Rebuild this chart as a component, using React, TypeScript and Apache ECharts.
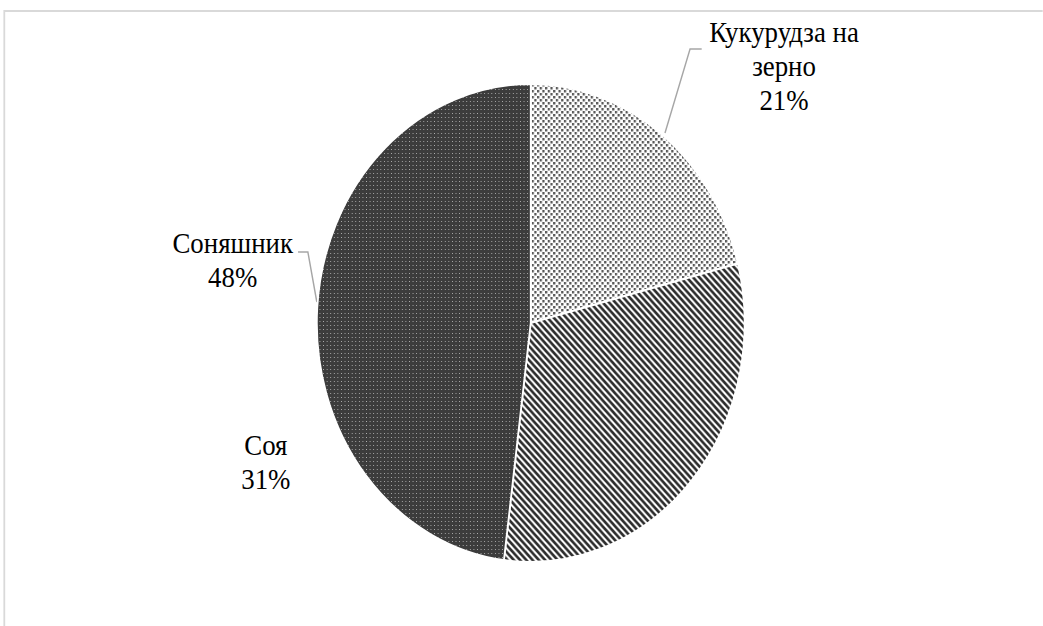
import React, { useEffect, useRef } from "react";
import * as echarts from "echarts";

// ---- data ----
const categories = ["Кукурудза на зерно", "Соя", "Соняшник"];
const shares = [21, 31, 48];

// ---- layout (local, pre-transform coordinates) ----
const SCALE_X = 0.895;
const LOCAL_W = 1165;
const LOCAL_H = 626;
const FONT = "Liberation Serif";
const labelAnchors: number[][] = [
  [876, 66],
  [297, 462],
  [260, 260],
];
const leaderLines: (number[][] | null)[] = [
  [
    [743, 133],
    [771, 49],
    [784, 49],
  ],
  null,
  [
    [354, 302],
    [344, 252],
    [333, 252],
  ],
];

// tiles drawn at 2x resolution, shown at half size
function makeTile(kind: string): { canvas: HTMLCanvasElement; size: number } {
  const c = document.createElement("canvas");
  const ctx = c.getContext("2d")!;
  let size = 6;
  if (kind === "dots") {
    size = 6;
    c.width = c.height = size * 2;
    ctx.fillStyle = "#ffffff";
    ctx.fillRect(0, 0, 12, 12);
    ctx.fillStyle = "#585858";
    ctx.fillRect(0, 0, 5, 5);
    ctx.fillRect(6, 6, 5, 5);
  } else if (kind === "stripes") {
    size = 7;
    c.width = c.height = size * 2;
    ctx.fillStyle = "#ffffff";
    ctx.fillRect(0, 0, 14, 14);
    ctx.strokeStyle = "#2e2e2e";
    ctx.lineWidth = 5.5;
    for (const off of [-14, 0, 14]) {
      ctx.beginPath();
      ctx.moveTo(off - 2, -2);
      ctx.lineTo(off + 16, 16);
      ctx.stroke();
    }
  } else {
    size = 4;
    c.width = c.height = size * 2;
    ctx.fillStyle = "#3c3c3c";
    ctx.fillRect(0, 0, 8, 8);
    ctx.fillStyle = "#b0b0b0";
    ctx.fillRect(2, 2, 2, 2);
  }
  return { canvas: c, size };
}

export default function App() {
  const ref = useRef<HTMLDivElement>(null);

  useEffect(() => {
    if (!ref.current) return;
    const chart = echarts.init(ref.current, undefined, { renderer: "svg" });
    const kinds = ["dots", "stripes", "darkdots"];
    const fills = kinds.map((k) => {
      const t = makeTile(k);
      return {
        image: t.canvas,
        repeat: "repeat",
        imageWidth: t.size,
        imageHeight: t.size,
      };
    });

    const data = categories.map((name, i) => ({
      name,
      value: shares[i],
      itemStyle: { color: fills[i] as any },
      labelLine: { show: leaderLines[i] !== null },
    }));

    chart.setOption({
      animation: false,
      backgroundColor: "#ffffff",
      textStyle: { fontFamily: FONT },
      graphic: [
        {
          type: "rect",
          z: -1,
          shape: { x: 4.8, y: 11, width: 1300, height: 800 },
          style: { fill: "none", stroke: "#d9d9d9", lineWidth: 2 },
          silent: true,
        },
      ],
      series: [
        {
          type: "pie",
          center: [593, 323],
          radius: [0, 239],
          startAngle: 90,
          clockwise: true,
          silent: true,
          itemStyle: { borderColor: "#ffffff", borderWidth: 2 },
          label: {
            show: true,
            position: "outside",
            fontFamily: FONT,
            fontSize: 30,
            lineHeight: 34,
            color: "#000000",
            align: "center",
            formatter: (p: any) =>
              p.name.replace(" на ", " на\n") + "\n" + Math.round(p.percent) + "%",
          },
          labelLine: {
            show: true,
            lineStyle: { color: "#a6a6a6", width: 1.6 },
          },
          labelLayout: (params: any) => {
            const i = params.dataIndex;
            const res: any = {
              x: labelAnchors[i][0],
              y: labelAnchors[i][1],
              align: "center",
              verticalAlign: "middle",
            };
            if (leaderLines[i]) res.labelLinePoints = leaderLines[i];
            return res;
          },
          emphasis: { disabled: true },
          data,
        },
      ],
    });
    return () => chart.dispose();
  }, []);

  return (
    <div
      style={{
        position: "fixed",
        left: 0,
        top: 0,
        width: 1043,
        height: 626,
        overflow: "hidden",
        background: "#ffffff",
      }}
    >
      <div
        ref={ref}
        style={{
          width: LOCAL_W,
          height: LOCAL_H,
          transform: `scaleX(${SCALE_X})`,
          transformOrigin: "0 0",
        }}
      />
    </div>
  );
}
